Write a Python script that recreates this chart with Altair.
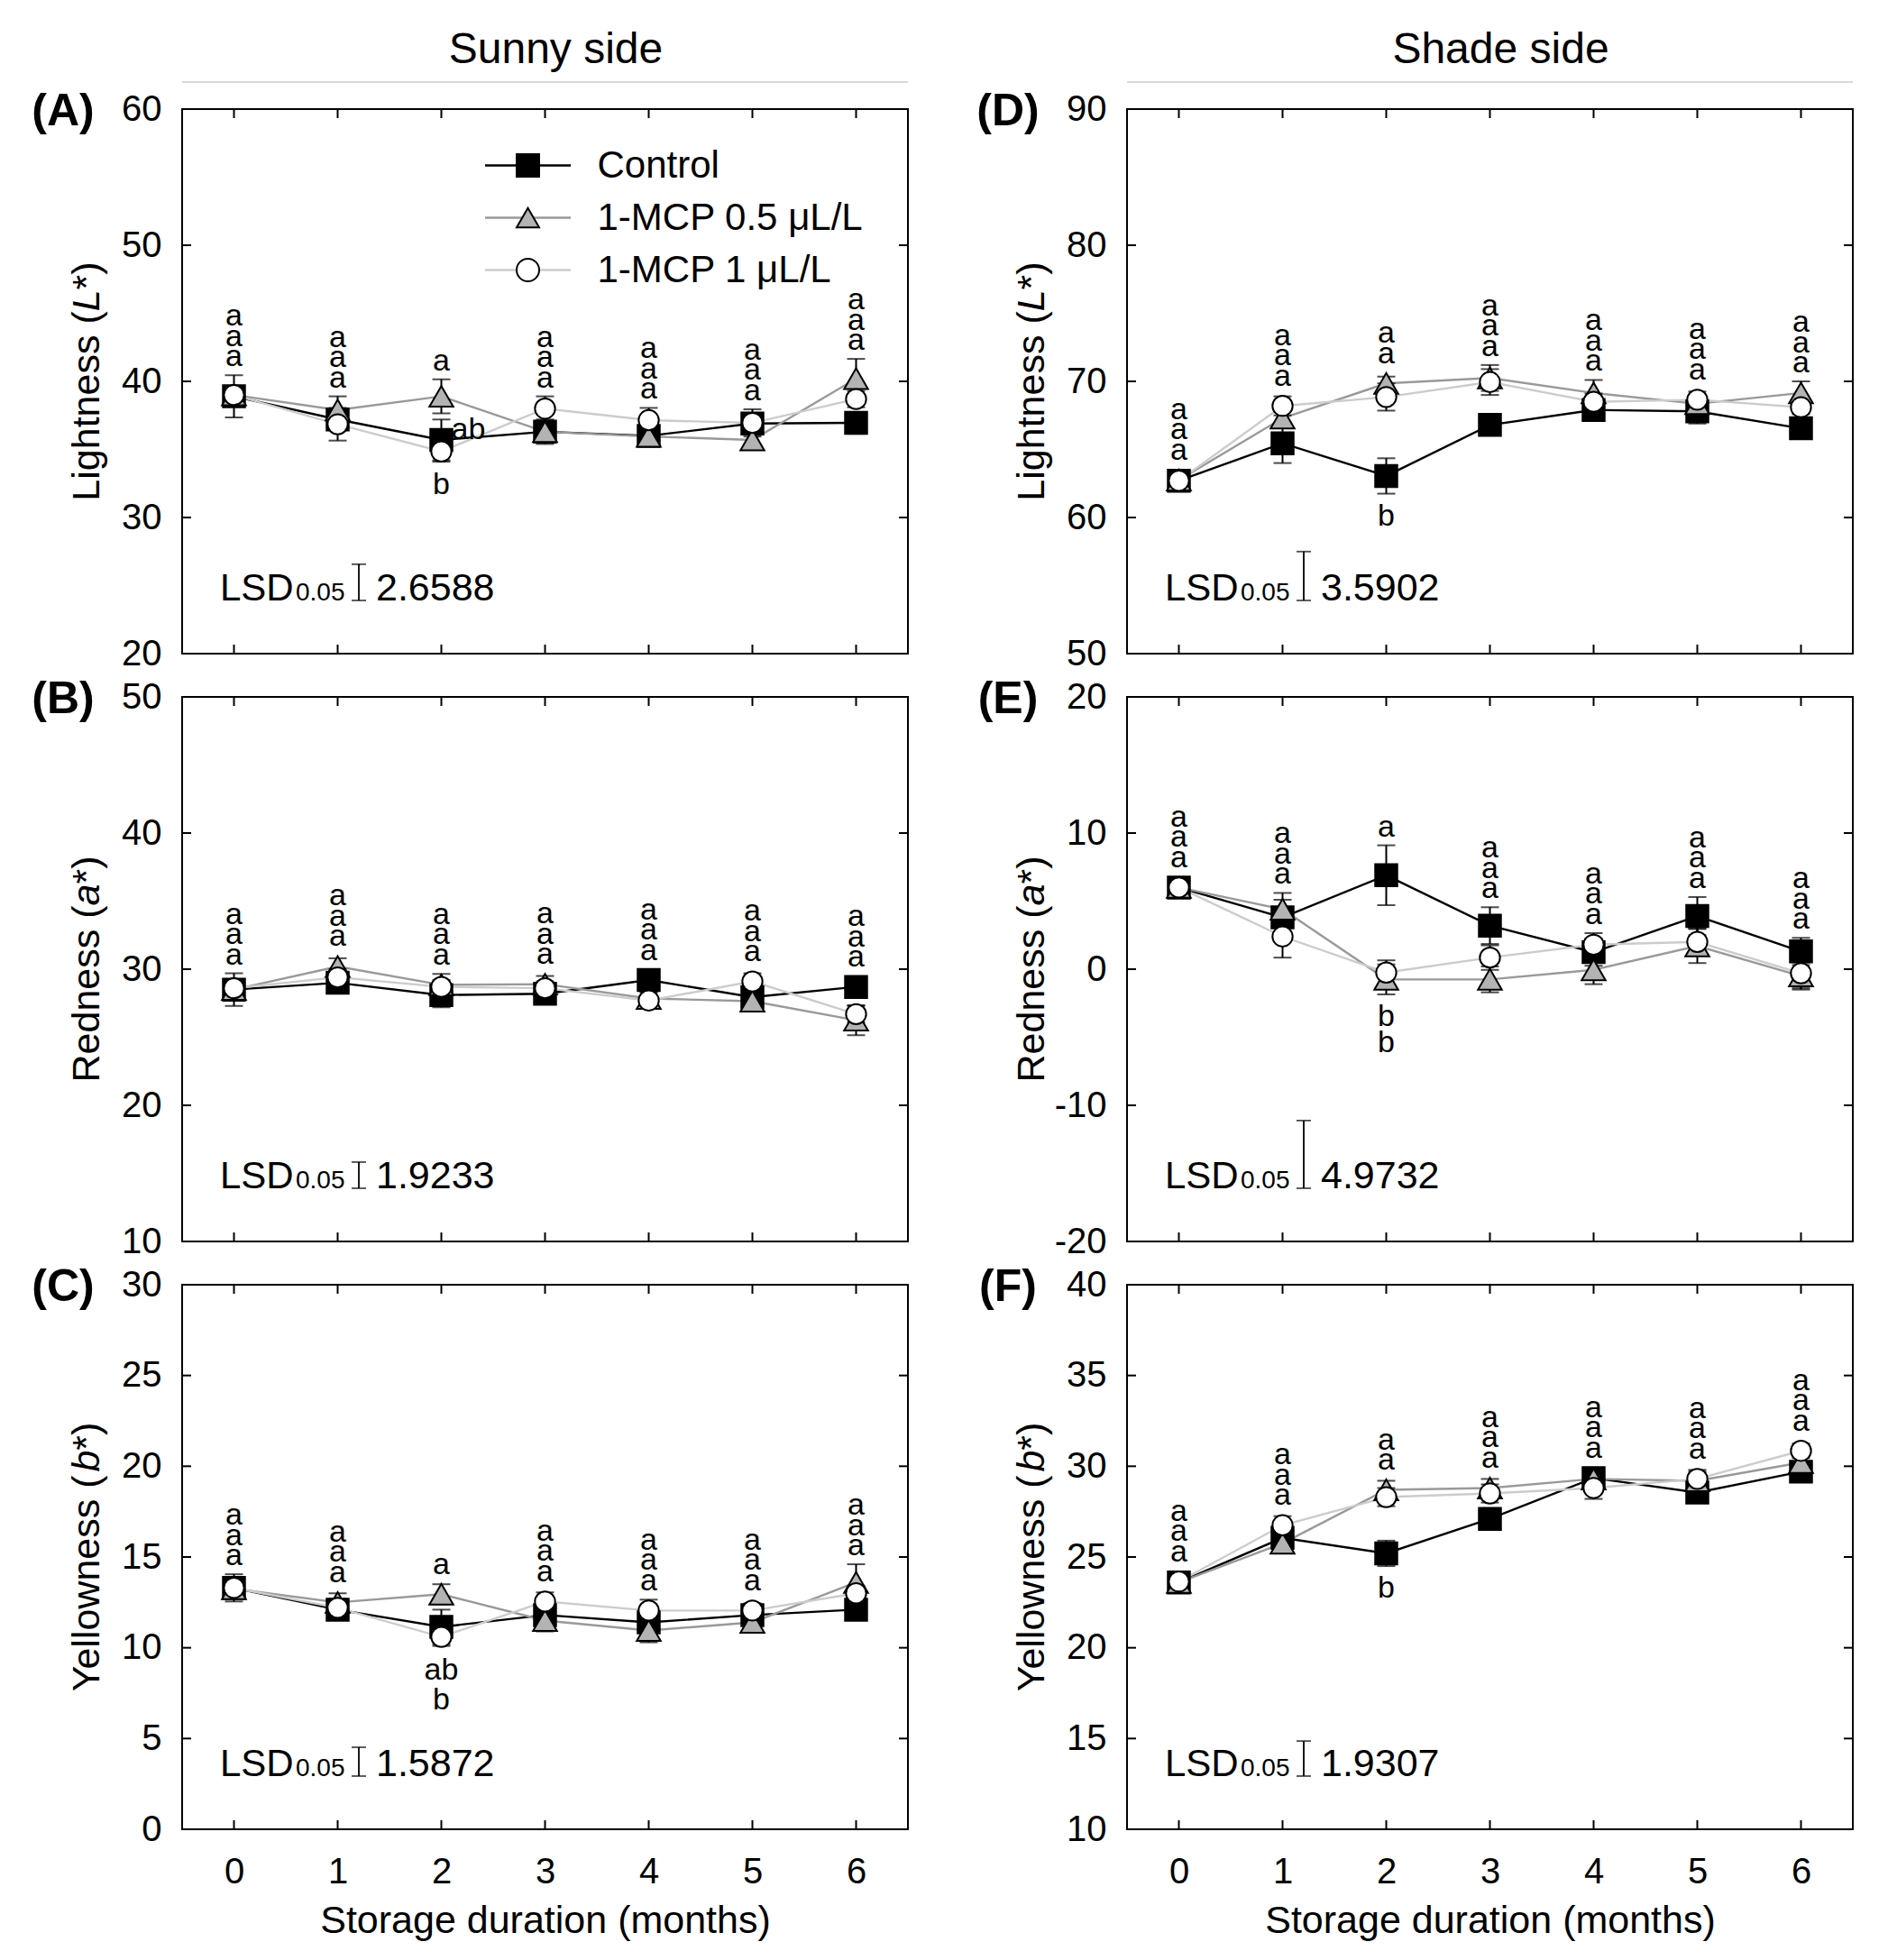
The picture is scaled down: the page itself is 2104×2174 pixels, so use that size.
import altair as alt
import pandas as pd

FONT = "Liberation Sans"

months = [0, 1, 2, 3, 4, 5, 6]
series = ["Control", "1-MCP 0.5 μL/L", "1-MCP 1 μL/L"]
line_colors = ["#000000", "#999999", "#cccccc"]
marker_fills = ["#000000", "#b3b3b3", "#ffffff"]
marker_strokes = ["#000000", "#000000", "#000000"]
marker_shapes = ["square", "triangle-up", "circle"]
marker_sizes = [600, 700, 500]

# ---------- Panel A : Sunny side, Lightness ----------
A_control = [38.9, 37.2, 35.7, 36.3, 36.0, 36.9, 36.95]
A_mcp05 = [39.0, 37.9, 38.9, 36.3, 35.95, 35.7, 40.2]
A_mcp1 = [39.0, 36.85, 34.85, 38.0, 37.15, 36.95, 38.7]
A_control_err = [1.55, 0.8, 1.5, 0.6, 0.6, 0.7, 0.8]
A_mcp05_err = [0.5, 1.0, 1.25, 0.9, 0.6, 0.7, 1.45]
A_mcp1_err = [0.6, 1.2, 0.75, 0.9, 0.9, 1.0, 0.6]
A_lsd = 2.6588
A_above = [["a", "a", "a"], ["a", "a", "a"], ["a"], ["a", "a", "a"], ["a", "a", "a"], ["a", "a", "a"], ["a", "a", "a"]]
A_below = [[], [], ["b"], [], [], [], []]
A_side = [None, None, "ab", None, None, None, None]

# ---------- Panel B : Sunny side, Redness ----------
B_control = [28.5, 29.0, 28.1, 28.2, 29.2, 27.95, 28.7]
B_mcp05 = [28.5, 30.2, 28.85, 28.9, 27.85, 27.65, 26.25]
B_mcp1 = [28.6, 29.4, 28.7, 28.6, 27.7, 29.1, 26.7]
B_control_err = [1.2, 0.5, 0.9, 0.5, 0.6, 0.5, 0.5]
B_mcp05_err = [0.5, 0.6, 0.8, 0.6, 0.5, 0.5, 1.1]
B_mcp1_err = [0.5, 0.6, 0.5, 0.5, 0.6, 0.6, 0.6]
B_lsd = 1.9233
B_above = [["a", "a", "a"]] * 7
B_below = [[]] * 7
B_side = [None] * 7

# ---------- Panel C : Sunny side, Yellowness ----------
C_control = [13.3, 12.1, 11.15, 11.8, 11.4, 11.8, 12.1]
C_mcp05 = [13.25, 12.5, 12.95, 11.5, 10.95, 11.4, 13.6]
C_mcp1 = [13.3, 12.2, 10.6, 12.55, 12.05, 12.05, 13.0]
C_control_err = [0.75, 0.4, 0.95, 0.4, 0.4, 0.4, 0.4]
C_mcp05_err = [0.4, 0.5, 0.55, 0.6, 0.65, 0.55, 1.0]
C_mcp1_err = [0.4, 0.5, 0.5, 0.5, 0.6, 0.4, 0.4]
C_lsd = 1.5872
C_above = [["a", "a", "a"], ["a", "a", "a"], ["a"], ["a", "a", "a"], ["a", "a", "a"], ["a", "a", "a"], ["a", "a", "a"]]
C_below = [[], [], ["ab", "b"], [], [], [], []]
C_side = [None] * 7

# ---------- Panel D : Shade side, Lightness ----------
D_control = [62.7, 65.45, 63.05, 66.8, 67.9, 67.8, 66.55]
D_mcp05 = [62.75, 67.3, 69.85, 70.25, 69.15, 68.35, 69.15]
D_mcp1 = [62.7, 68.2, 68.85, 69.95, 68.5, 68.65, 68.1]
D_control_err = [0.5, 1.45, 1.3, 0.7, 0.5, 0.9, 0.5]
D_mcp05_err = [0.4, 0.6, 0.5, 0.95, 0.95, 0.5, 0.85]
D_mcp1_err = [0.4, 0.7, 1.0, 0.95, 0.6, 0.6, 0.5]
D_lsd = 3.5902
D_above = [["a", "a", "a"], ["a", "a", "a"], ["a", "a"], ["a", "a", "a"], ["a", "a", "a"], ["a", "a", "a"], ["a", "a", "a"]]
D_below = [[], [], ["b"], [], [], [], []]
D_side = [None] * 7

# ---------- Panel E : Shade side, Redness ----------
E_control = [6.0, 3.8, 6.9, 3.2, 1.25, 3.9, 1.3]
E_mcp05 = [6.0, 4.4, -0.75, -0.75, -0.05, 1.7, -0.5]
E_mcp1 = [6.0, 2.4, -0.25, 0.85, 1.8, 2.0, -0.3]
E_control_err = [0.7, 1.3, 2.2, 1.35, 1.0, 1.4, 1.0]
E_mcp05_err = [0.6, 1.2, 1.1, 0.95, 1.05, 1.25, 1.0]
E_mcp1_err = [0.5, 1.55, 0.9, 0.9, 0.85, 1.0, 1.1]
E_lsd = 4.9732
E_above = [["a", "a", "a"], ["a", "a", "a"], ["a"], ["a", "a", "a"], ["a", "a", "a"], ["a", "a", "a"], ["a", "a", "a"]]
E_below = [[], [], ["b", "b"], [], [], [], []]
E_side = [None] * 7

# ---------- Panel F : Shade side, Yellowness ----------
F_control = [23.6, 26.05, 25.2, 27.1, 29.35, 28.55, 29.7]
F_mcp05 = [23.6, 25.75, 28.7, 28.8, 29.3, 29.2, 30.2]
F_mcp1 = [23.65, 26.75, 28.3, 28.5, 28.8, 29.3, 30.85]
F_control_err = [0.4, 0.4, 0.7, 0.4, 0.5, 0.4, 0.4]
F_mcp05_err = [0.4, 0.5, 0.5, 0.5, 0.4, 0.5, 0.4]
F_mcp1_err = [0.4, 0.5, 0.5, 0.5, 0.6, 0.5, 0.4]
F_lsd = 1.9307
F_above = [["a", "a", "a"], ["a", "a", "a"], ["a", "a"], ["a", "a", "a"], ["a", "a", "a"], ["a", "a", "a"], ["a", "a", "a"]]
F_below = [[], [], ["b"], [], [], [], []]
F_side = [None] * 7

W, H = 805, 604

ARIAL_W = {"L": 556, "i": 222, "g": 556, "h": 556, "t": 278, "n": 556, "e": 556, "s": 500,
           " ": 278, "(": 333, "R": 722, "d": 556, "Y": 667, "l": 222, "o": 556, "w": 722,
           "a": 556, "b": 556, "*": 389, ")": 333}


def text_width(s, fs):
    return sum(ARIAL_W.get(c, 556) for c in s) * fs / 1000.0


def make_panel(label, domain, yticks, vals, errs, lsd, above, below, side, ytitle,
               show_x=False, col_title=None, legend=False, below_lh=22):
    ymin, ymax = domain
    ppu = H / (ymax - ymin)
    rows = []
    for si, s in enumerate(series):
        for m, v, e in zip(months, vals[si], errs[si]):
            rows.append(dict(month=m, series=s, value=v, err=e, lo=v - e, hi=v + e))
    df = pd.DataFrame(rows)

    xscale = alt.Scale(domain=[-0.5, 6.5], nice=False, zero=False)
    yscale = alt.Scale(domain=[ymin, ymax], nice=False, zero=False)
    if show_x:
        xaxis = alt.Axis(values=months, ticks=False, tickSize=0, domain=False, grid=False,
                         labelFontSize=40, labelFont=FONT, labelColor="black", labelPadding=27,
                         labelAngle=0, titleFontSize=43, titleFont=FONT, titleFontWeight="normal",
                         titleColor="black", titlePadding=13)
        xtitle = "Storage duration (months)"
    else:
        xaxis = None
        xtitle = None
    yaxis = alt.Axis(values=yticks, ticks=False, tickSize=0, domain=False, grid=False,
                     labelFontSize=40, labelFont=FONT, labelColor="black", labelPadding=23,
                     labelExpr="toString(datum.value)")

    def X(f):
        return alt.X(f, scale=xscale, axis=xaxis, title=xtitle)

    def Y(f):
        return alt.Y(f, scale=yscale, axis=yaxis, title=None)

    layers = []
    # lines
    for si, s in enumerate(series):
        layers.append(
            alt.Chart(df[df.series == s]).mark_line(color=line_colors[si], strokeWidth=2.4)
            .encode(x=X("month:Q"), y=Y("value:Q"))
        )
    # error bars
    layers.append(alt.Chart(df).mark_rule(color="black", strokeWidth=2)
                  .encode(x=X("month:Q"), y=Y("lo:Q"), y2="hi:Q"))
    for f in ["lo", "hi"]:
        layers.append(alt.Chart(df).mark_tick(orient="horizontal", color="black", size=20, thickness=2)
                      .encode(x=X("month:Q"), y=Y(f + ":Q")))
    # markers
    for si, s in enumerate(series):
        layers.append(
            alt.Chart(df[df.series == s]).mark_point(
                shape=marker_shapes[si], filled=True, fill=marker_fills[si], stroke="black",
                strokeWidth=2, size=marker_sizes[si], opacity=1)
            .encode(x=X("month:Q"), y=Y("value:Q"))
        )
    # significance letters
    half = 12.5 / ppu
    lrows = []
    for mi, m in enumerate(months):
        tops = [vals[si][mi] + max(errs[si][mi], half) for si in range(3)]
        bots = [vals[si][mi] - max(errs[si][mi], half) for si in range(3)]
        top, bot = max(tops), min(bots)
        for k, t in enumerate(above[mi]):
            lrows.append(dict(month=m, txt=t, yv=top + (10 + k * 22.5) / ppu))
        for k, t in enumerate(below[mi]):
            lrows.append(dict(month=m, txt=t, yv=bot - (11 + 24 + k * below_lh) / ppu))
    ldf = pd.DataFrame(lrows)
    layers.append(alt.Chart(ldf).mark_text(fontSize=34, font=FONT, baseline="alphabetic",
                                           align="center", color="black")
                  .encode(x=X("month:Q"), y=Y("yv:Q"), text="txt:N"))
    srows = []
    for mi, m in enumerate(months):
        if side[mi]:
            srows.append(dict(month=m, txt=side[mi], yv=vals[0][mi] + errs[0][mi]))
    if srows:
        layers.append(alt.Chart(pd.DataFrame(srows)).mark_text(
            fontSize=34, font=FONT, baseline="top", align="left", dx=11, dy=-5, color="black")
            .encode(x=X("month:Q"), y=Y("yv:Q"), text="txt:N"))

    # LSD indicator
    base = ymin + 59.0 / ppu
    lsd_df = pd.DataFrame({"lo": [base], "hi": [base + lsd]})
    layers.append(alt.Chart(lsd_df).mark_rule(color="black", strokeWidth=1.8)
                  .encode(x=alt.value(196), y=Y("lo:Q"), y2="hi:Q"))
    for f in ["lo", "hi"]:
        layers.append(alt.Chart(lsd_df).mark_tick(orient="horizontal", color="black", size=16, thickness=1.8)
                      .encode(x=alt.value(196), y=Y(f + ":Q")))
    lsd_txt = pd.DataFrame({"t": ["LSD"], "s": ["0.05"], "v": [f"{lsd:.4f}"]})
    layers.append(alt.Chart(lsd_txt).mark_text(fontSize=42, font=FONT, align="left",
                                               baseline="alphabetic", color="black")
                  .encode(x=alt.value(42), y=alt.value(H - 59), text="t:N"))
    layers.append(alt.Chart(lsd_txt).mark_text(fontSize=28, font=FONT, align="left",
                                               baseline="alphabetic", color="black")
                  .encode(x=alt.value(126), y=alt.value(H - 59), text="s:N"))
    layers.append(alt.Chart(lsd_txt).mark_text(fontSize=43, font=FONT, align="left",
                                               baseline="alphabetic", color="black")
                  .encode(x=alt.value(215), y=alt.value(H - 59), text="v:N"))

    # inward ticks on all four sides
    ytdf = pd.DataFrame({"tick": yticks})
    xtdf = pd.DataFrame({"tick": months})
    layers.append(alt.Chart(ytdf).mark_rule(color="black", strokeWidth=2)
                  .encode(y=Y("tick:Q"), x=alt.value(0), x2=alt.value(10)))
    layers.append(alt.Chart(ytdf).mark_rule(color="black", strokeWidth=2)
                  .encode(y=Y("tick:Q"), x=alt.value(W - 10), x2=alt.value(W)))
    layers.append(alt.Chart(xtdf).mark_rule(color="black", strokeWidth=2)
                  .encode(x=X("tick:Q"), y=alt.value(H - 10), y2=alt.value(H)))
    layers.append(alt.Chart(xtdf).mark_rule(color="black", strokeWidth=2)
                  .encode(x=X("tick:Q"), y=alt.value(0), y2=alt.value(10)))

    # y title with italic variable
    fs = 43
    parts = ytitle
    widths = [text_width(p, fs) for p in parts]
    pos = H / 2 + sum(widths) / 2
    for p, wdt, it in zip(parts, widths, [False, True, False]):
        layers.append(alt.Chart(pd.DataFrame({"t": [p]})).mark_text(
            angle=270, align="left", baseline="middle", fontSize=fs, font=FONT,
            fontStyle="italic" if it else "normal", color="black")
            .encode(x=alt.value(-105), y=alt.value(pos), text="t:N"))
        pos -= wdt

    # panel letter
    layers.append(alt.Chart(pd.DataFrame({"t": [label]})).mark_text(
        fontSize=50, font=FONT, fontWeight="bold", align="center", baseline="middle", color="black")
        .encode(x=alt.value(-132), y=alt.value(3), text="t:N"))

    if col_title:
        layers.append(alt.Chart(pd.DataFrame({"t": [col_title]})).mark_text(
            fontSize=48, font=FONT, align="center", baseline="middle", color="black")
            .encode(x=alt.value(W / 2 + 12), y=alt.value(-65), text="t:N"))
        layers.append(alt.Chart(pd.DataFrame({"t": [col_title]})).mark_rule(color="#cccccc", strokeWidth=1.5)
                      .encode(x=alt.value(0), x2=alt.value(W), y=alt.value(-30)))

    if legend:
        # the line-legend labels carry a trailing space so Vega-Lite does not merge the two legends
        lg = pd.DataFrame({"lg_line": [s + " " for s in series], "lg_mark": series})
        common = dict(orient="none", legendX=362.5, legendY=41.5, title=None, padding=0,
                      rowPadding=16, labelFontSize=42, labelFont=FONT, labelColor="black",
                      labelOffset=56, symbolSize=625, labelLimit=700)
        layers.append(alt.Chart(lg).transform_filter("false").mark_point(filled=False, strokeWidth=2.4, opacity=1)
                      .encode(color=alt.Color("lg_line:N",
                                              scale=alt.Scale(domain=[s + " " for s in series], range=line_colors),
                                              legend=alt.Legend(symbolType="M-3.8,0H3.8",
                                                                symbolStrokeWidth=2.4,
                                                                labelOpacity=0, **common))))
        mleg = alt.Legend(symbolStrokeWidth=2, symbolOpacity=1, **common)
        layers.append(alt.Chart(lg).transform_filter("false")
                      .mark_point(filled=True, strokeWidth=2, opacity=1)
                      .encode(shape=alt.Shape("lg_mark:N", scale=alt.Scale(domain=series, range=marker_shapes),
                                              legend=mleg),
                              fill=alt.Fill("lg_mark:N", scale=alt.Scale(domain=series, range=marker_fills),
                                            legend=mleg),
                              stroke=alt.Stroke("lg_mark:N", scale=alt.Scale(domain=series, range=marker_strokes),
                                                legend=mleg)))

    return alt.layer(*layers).properties(width=W, height=H)


pA = make_panel("(A)", (20, 60), [20, 30, 40, 50, 60],
                [A_control, A_mcp05, A_mcp1], [A_control_err, A_mcp05_err, A_mcp1_err],
                A_lsd, A_above, A_below, A_side, ["Lightness (", "L", "*)"],
                col_title="Sunny side", legend=True)
pB = make_panel("(B)", (10, 50), [10, 20, 30, 40, 50],
                [B_control, B_mcp05, B_mcp1], [B_control_err, B_mcp05_err, B_mcp1_err],
                B_lsd, B_above, B_below, B_side, ["Redness (", "a", "*)"])
pC = make_panel("(C)", (0, 30), [0, 5, 10, 15, 20, 25, 30],
                [C_control, C_mcp05, C_mcp1], [C_control_err, C_mcp05_err, C_mcp1_err],
                C_lsd, C_above, C_below, C_side, ["Yellowness (", "b", "*)"], show_x=True, below_lh=33)
pD = make_panel("(D)", (50, 90), [50, 60, 70, 80, 90],
                [D_control, D_mcp05, D_mcp1], [D_control_err, D_mcp05_err, D_mcp1_err],
                D_lsd, D_above, D_below, D_side, ["Lightness (", "L", "*)"], col_title="Shade side")
pE = make_panel("(E)", (-20, 20), [-20, -10, 0, 10, 20],
                [E_control, E_mcp05, E_mcp1], [E_control_err, E_mcp05_err, E_mcp1_err],
                E_lsd, E_above, E_below, E_side, ["Redness (", "a", "*)"], below_lh=29)
pF = make_panel("(F)", (10, 40), [10, 15, 20, 25, 30, 35, 40],
                [F_control, F_mcp05, F_mcp1], [F_control_err, F_mcp05_err, F_mcp1_err],
                F_lsd, F_above, F_below, F_side, ["Yellowness (", "b", "*)"], show_x=True)

chart = (
    alt.concat(pA, pD, pB, pE, pC, pF, columns=2, spacing={"row": 48, "column": 243}, bounds="flush")
    .properties(padding={"left": 26, "top": 23, "right": 10, "bottom": 10})
    .configure(font=FONT)
    .configure_view(stroke="black", strokeWidth=2)
)

chart.save("out.html", embed_options={"renderer": "svg", "actions": False})
